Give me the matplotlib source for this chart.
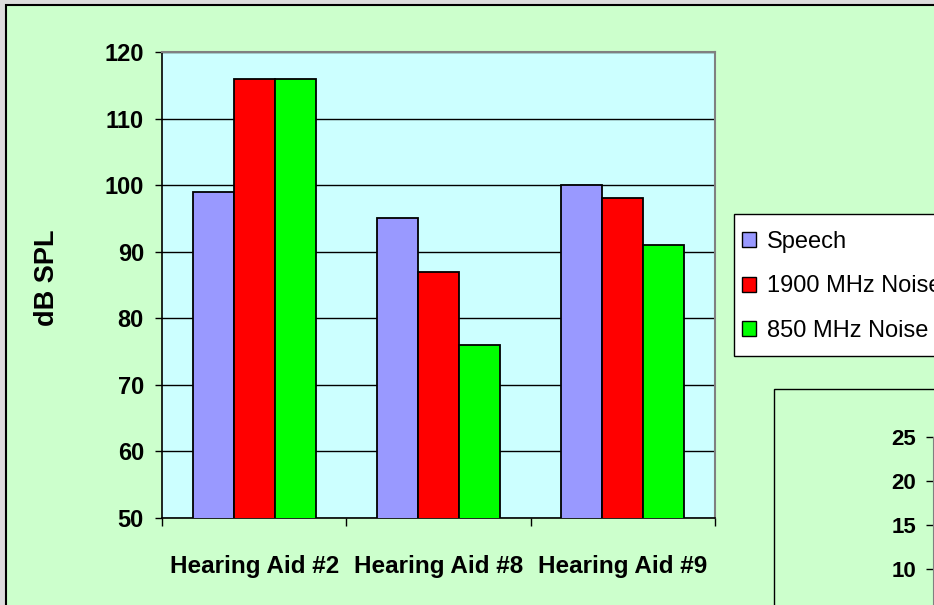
import matplotlib
matplotlib.use("Agg")
import matplotlib.pyplot as plt
import numpy as np
from matplotlib.patches import Rectangle, Patch

# datos
categorias = ["Hearing Aid #2", "Hearing Aid #8", "Hearing Aid #9"]
series = ["Speech", "1900 MHz Noise", "850 MHz Noise"]
speech = [99, 95, 100]
noise_1900 = [116, 87, 98]
noise_850 = [116, 76, 91]
colores = ["#9999FF", "#FF0000", "#00FF00"]
yticks = [50, 60, 70, 80, 90, 100, 110, 120]
yticks2 = [5, 10, 15, 20, 25]

fuente = ["Liberation Sans", "DejaVu Sans"]
W, H = 934, 605

fig = plt.figure(figsize=(W / 100, H / 100), dpi=100)
fig.patch.set_facecolor("#DDDDDD")

# fondo del grafico (marco negro)
fig.patches.append(Rectangle((6 / W, -0.1), 1.2, 1 - 5 / H + 0.1, transform=fig.transFigure,
                             facecolor="#CCFFCC", edgecolor="black", linewidth=1.5, zorder=0))

# segundo grafico cortado (abajo a la derecha)
fig.patches.append(Rectangle((774 / W, -0.2), 0.5, 1 - 389 / H + 0.2, transform=fig.transFigure,
                             facecolor="#CCFFCC", edgecolor="black", linewidth=1, zorder=1))

# marco de la leyenda
fig.patches.append(Rectangle((734 / W, 1 - 356 / H), 0.3, (356 - 214) / H, transform=fig.transFigure,
                             facecolor="white", edgecolor="black", linewidth=1, zorder=1))

ax = fig.add_axes([162 / W, 1 - 518 / H, (715 - 162) / W, (518 - 52) / H])
ax.set_zorder(2)
ax.set_facecolor("#CCFFFF")

x = np.arange(len(categorias))
w = 1 / 4.5
for i, (vals, nombre) in enumerate(zip([speech, noise_1900, noise_850], series)):
    ax.bar(x + (i - 1) * w, vals, width=w, color=colores[i], edgecolor="black",
           linewidth=1.3, label=nombre, zorder=3)

ax.set_ylim(50, 120)
ax.set_xlim(-0.5, 2.5)
ax.set_yticks(yticks)
ax.yaxis.grid(True, color="black", linewidth=1, zorder=1)
ax.set_axisbelow(True)

ax.set_xticks([-0.5, 0.5, 1.5, 2.5])
ax.set_xticklabels([])
ax.set_xticks(x, minor=True)
ax.set_xticklabels(categorias, minor=True)
ax.tick_params(axis="x", which="major", direction="out", length=6, width=1)
ax.tick_params(axis="x", which="minor", length=0, pad=27)
ax.tick_params(axis="y", direction="out", length=5, width=1, pad=8)

for lbl in ax.get_yticklabels():
    lbl.set_family(fuente)
    lbl.set_fontweight("bold")
    lbl.set_fontsize(17)
for lbl in ax.get_xticklabels(minor=True):
    lbl.set_family(fuente)
    lbl.set_fontweight("bold")
    lbl.set_fontsize(17.5)

for s in ["top", "right"]:
    ax.spines[s].set_color("#808080")
    ax.spines[s].set_linewidth(1.5)
for s in ["left", "bottom"]:
    ax.spines[s].set_color("black")
    ax.spines[s].set_linewidth(1.2)

fig.text(47 / W, 1 - 278 / H, "dB SPL", rotation=90, ha="center", va="center",
         family=fuente, fontweight="bold", fontsize=19.5)

# leyenda
handles = [Patch(facecolor=c, edgecolor="black", linewidth=1) for c in colores]
leg = fig.legend(handles, series, loc="upper left", bbox_to_anchor=(742 / W, 1 - 231 / H),
                 bbox_transform=fig.transFigure, frameon=False, borderaxespad=0,
                 borderpad=0, labelspacing=0.95, handlelength=0.6, handleheight=0.6,
                 handletextpad=0.45, prop={"family": fuente, "size": 17})
leg.set_zorder(5)

# eje del segundo grafico
ax2 = fig.add_axes([933 / W, 1 - (437 + 25 * 8.8) / H, 0.2, 25 * 8.8 / H])
ax2.set_zorder(2)
ax2.set_facecolor("none")
ax2.set_ylim(0, 25)
ax2.set_yticks(yticks2)
ax2.set_xticks([])
ax2.tick_params(axis="y", direction="out", length=5, width=1, pad=7)
for lbl in ax2.get_yticklabels():
    lbl.set_family(fuente)
    lbl.set_fontweight("bold")
    lbl.set_fontsize(16)
for s in ["top", "right", "bottom"]:
    ax2.spines[s].set_visible(False)
ax2.spines["left"].set_color("#808080")

fig.savefig("out.png", dpi=100, facecolor=fig.get_facecolor())
